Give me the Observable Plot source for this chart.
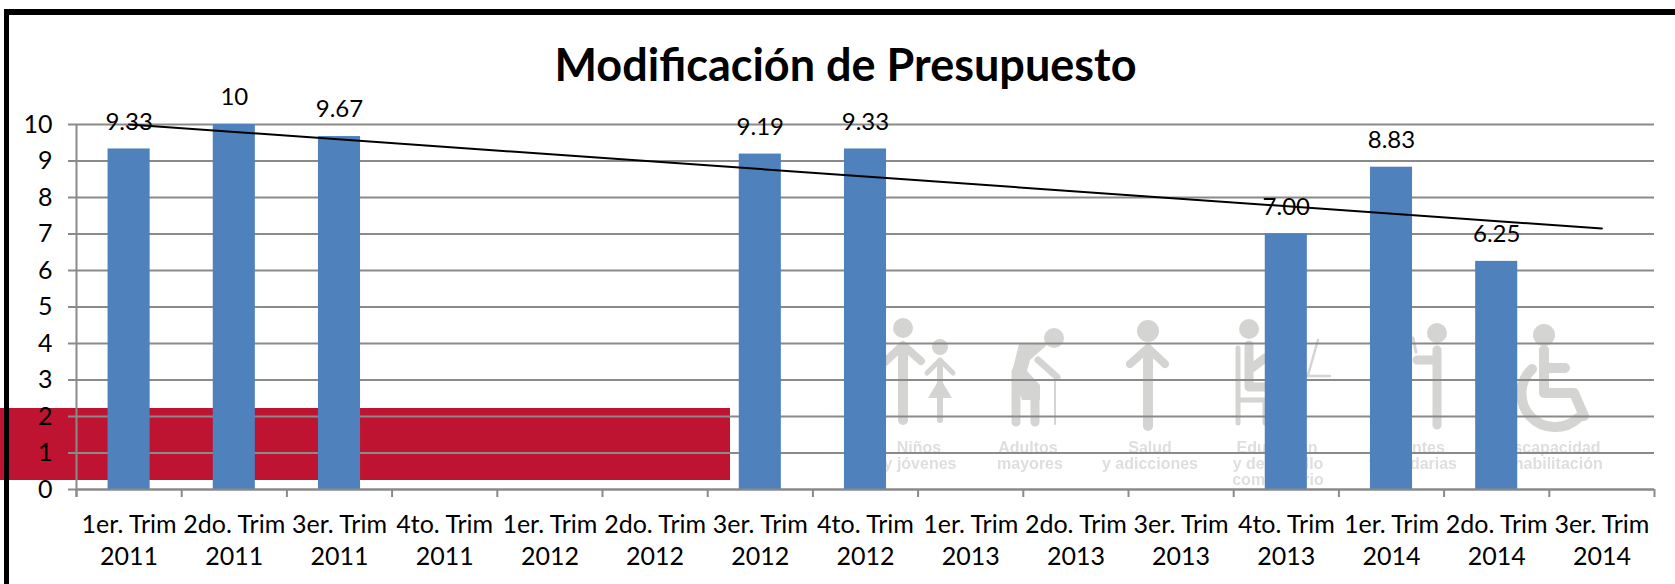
<!DOCTYPE html>
<html lang="es">
<head>
<meta charset="utf-8">
<title>Modificación de Presupuesto</title>
<script src="https://cdn.jsdelivr.net/npm/d3@7"></script>
<script src="https://cdn.jsdelivr.net/npm/@observablehq/plot@0.6"></script>
<style>
  html, body { margin: 0; padding: 0; background: #fff; overflow: hidden; }
  #stage { position: relative; width: 1675px; height: 584px; overflow: hidden; }
  #stage > * { position: absolute; }
  #red { left: 0; top: 408px; width: 730px; height: 72px; background: #BE1431; }
  #mark { left: 0; top: 0; filter: blur(0.7px); }
  #mark .i { stroke: #d4d4d2; fill: none; stroke-linecap: round; stroke-linejoin: round; }
  #mark .h { fill: #d4d4d2; }
  #mark text { font: bold 16px "Liberation Sans", Arial, sans-serif; fill: #dedede; text-anchor: middle; }
  #plot { left: 0; top: 0; }
  #frameTop { left: 4px; top: 9px; width: 1671px; height: 6px; background: #000; }
  #frameLeft { left: 4px; top: 9px; width: 5px; height: 575px; background: #000; }
</style>
</head>
<body>
<div id="stage">
  <div id="red"></div>
  <svg id="mark" width="1675" height="584" viewBox="0 0 1675 584">
    <!-- Niños y jóvenes -->
    <circle class="h" cx="903" cy="328" r="10"/>
    <path class="i" stroke-width="8" d="M885 362L903 345L921 361"/>
    <path class="i" stroke-width="10" d="M903 347V420"/>
    <circle class="h" cx="940" cy="347" r="8"/>
    <path class="i" stroke-width="5" d="M927 373L940 360L953 373"/>
    <path class="i" stroke-width="6" d="M940 362V420"/>
    <path class="h" d="M940 378L952 398H928Z"/>
    <text x="919" y="453">Niños</text><text x="920" y="469">y jóvenes</text>
    <!-- Adultos mayores -->
    <circle class="h" cx="1054" cy="338" r="10"/>
    <path class="h" d="M1019 344H1048L1030 360L1027 371L1040 385V400H1022L1012 372Z"/>
    <path class="i" stroke-width="9" d="M1016 372V422M1022 378L1035 388V422"/>
    <path class="i" stroke-width="7" d="M1038 360L1057 377"/>
    <path class="i" stroke-width="2" d="M1055 380V424"/>
    <text x="1028" y="453">Adultos</text><text x="1030" y="469">mayores</text>
    <!-- Salud y adicciones -->
    <circle class="h" cx="1148" cy="331" r="11"/>
    <path class="i" stroke-width="8" d="M1130 364L1148 348L1165 364"/>
    <path class="i" stroke-width="10" d="M1148 350V426"/>
    <text x="1150" y="453">Salud</text><text x="1150" y="469">y adicciones</text>
    <!-- Educación y desarrollo comunitario -->
    <circle class="h" cx="1249" cy="329" r="10"/>
    <path class="i" stroke-width="5" d="M1238 348V423M1238 400H1265V423"/>
    <path class="i" stroke-width="9" d="M1249 345V387H1265M1252 368L1265 358"/>
    <path class="i" stroke-width="2.5" d="M1318 340L1308 375M1298 376H1330"/>
    <text x="1277" y="453">Educación</text><text x="1278" y="469">y desarrollo</text><text x="1278" y="485">comunitario</text>
    <!-- Migrantes -->
    <circle class="h" cx="1437" cy="333" r="10"/>
    <path class="i" stroke-width="9" d="M1437 350V425M1437 360H1417"/>
    <path class="i" stroke-width="3" d="M1413 338L1416 352"/>
    <text x="1407" y="453">Migrantes</text><text x="1413" y="469">y solidarias</text>
    <!-- Discapacidad y rehabilitación -->
    <circle class="h" cx="1544" cy="335" r="11"/>
    <path class="i" stroke-width="10" d="M1544 350V393H1574L1584 416M1544 368H1565M1532 369A33 33 0 1 0 1578 418"/>
    <text x="1549" y="453">Discapacidad</text><text x="1544" y="469">y rehabilitación</text>
  </svg>
  <div id="plot"></div>
  <div id="frameTop"></div>
  <div id="frameLeft"></div>
</div>
<script>
const titleText = "Modificación de Presupuesto";
const quarters = [
  "1er. Trim\n2011", "2do. Trim\n2011", "3er. Trim\n2011", "4to. Trim\n2011",
  "1er. Trim\n2012", "2do. Trim\n2012", "3er. Trim\n2012", "4to. Trim\n2012",
  "1er. Trim\n2013", "2do. Trim\n2013", "3er. Trim\n2013", "4to. Trim\n2013",
  "1er. Trim\n2014", "2do. Trim\n2014", "3er. Trim\n2014"
];
const values = [9.33, 10, 9.67, null, null, null, 9.19, 9.33, null, null, null, 7.00, 8.83, 6.25, null];
const valueLabels = ["9.33", "10", "9.67", "", "", "", "9.19", "9.33", "", "", "", "7.00", "8.83", "6.25", ""];
const trendQuarters = ["1er. Trim\n2011", "3er. Trim\n2014"];
const trendValues = [10.0, 7.15];
const yTicks = [0, 1, 2, 3, 4, 5, 6, 7, 8, 9, 10];

const rows = quarters.map((q, i) => ({q, v: values[i], label: valueLabels[i]})).filter(d => d.v != null);
const trend = trendQuarters.map((q, i) => ({q, v: trendValues[i]}));

const W = 1675, H = 584, mL = 76, mR = 21, mT = 124, mB = 95;
const halfStep = (W - mL - mR) / quarters.length / 2;
const tickDepth = -0.22;
const grey = "#8a8a8a";
const font = "Lato, 'Open Sans', sans-serif";

const chart = Plot.plot({
  width: W, height: H,
  marginLeft: mL, marginRight: mR, marginTop: mT, marginBottom: mB,
  style: {background: "transparent", fontFamily: font, color: "#000", overflow: "visible"},
  x: {type: "band", domain: quarters, paddingInner: 0.6, paddingOuter: 0.3, align: 0.5, round: false, label: null},
  y: {domain: [0, 10], label: null},
  marks: [
    Plot.gridY(yTicks, {stroke: grey, strokeOpacity: 1, strokeWidth: 2}),
    Plot.axisY({ticks: yTicks, tickSize: 8, tickPadding: 16, fontSize: 25, stroke: grey, strokeWidth: 2, strokeOpacity: 1, fill: "#000", label: null, tickFormat: d => String(d)}),
    Plot.ruleX([quarters[0]], {x: d => d, y1: tickDepth, y2: 10, dx: -halfStep, stroke: grey, strokeWidth: 2}),
    Plot.barY(rows, {x: "q", y: "v", fill: "#4F81BD"}),
    Plot.ruleX(quarters, {x: d => d, y1: tickDepth, y2: 0, dx: -halfStep, stroke: grey, strokeWidth: 2}),
    Plot.ruleX([quarters[quarters.length - 1]], {x: d => d, y1: tickDepth, y2: 0, dx: halfStep, stroke: grey, strokeWidth: 2}),
    Plot.ruleY([0], {stroke: grey, strokeWidth: 2}),
    Plot.axisX({tickSize: 0, tickPadding: 21, fontSize: 25, lineHeight: 1.28, fill: "#000", label: null}),
    Plot.line(trend, {x: "q", y: "v", stroke: "#000", strokeWidth: 2}),
    Plot.text(rows, {x: "q", y: "v", text: "label", dy: -27, fontSize: 24, fill: "#000"}),
    Plot.text([titleText], {frameAnchor: "top", dx: -20, dy: -75, fontSize: 45, fontWeight: "bold", fill: "#000"})
  ]
});
document.getElementById("plot").appendChild(chart);
</script>
</body>
</html>
